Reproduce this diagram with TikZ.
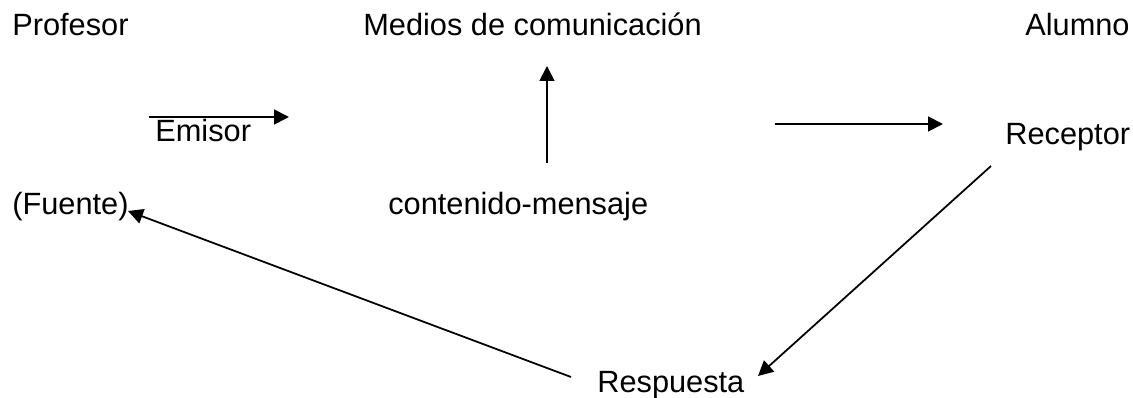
\documentclass[tikz,border=0pt]{standalone}
\usepackage{fontspec}
\setmainfont{Liberation Sans}
\usetikzlibrary{arrows.meta,positioning}
\tikzstyle{arrow} = [line width=1pt,-{Triangle[length=3mm,width=3mm]},color=black]

\begin{document}
\begin{tikzpicture}[
    x=0.02cm, y=-0.02cm,
    label/.style={inner sep=0pt, anchor=base west, font=\fontsize{17.5}{21}\selectfont}
]
\useasboundingbox (0,0) rectangle (1133,398);

% Top row
\node (profesor) [label] at (12,36) {Profesor};
\node (medios) [label] at (363,36) {Medios de comunicación};
\node (alumno) [label] at (1025,36) {Alumno};

% Middle row
\node (emisor) [label] at (155,142) {Emisor};
\node (receptor) [label] at (1005,145) {Receptor};
\node (fuente) [label] at (12,215) {(Fuente)};
\node (mensaje) [label] at (388,215) {contenido-mensaje};

% Bottom
\node (respuesta) [label] at (597,393) {Respuesta};

% Free ends
\coordinate (e1) at (149,117);
\coordinate (e2) at (289,117);
\coordinate (m1) at (547,163);
\coordinate (m2) at (547,66);
\coordinate (r1) at (775,124);
\coordinate (r2) at (943,124);
\coordinate (c1) at (991,166);
\coordinate (c2) at (758,376);
\coordinate (f1) at (571,377);
\coordinate (f2) at (128,211);

% Connections
\draw[arrow] (e1) -- (e2);
\draw[arrow] (m1) -- (m2);
\draw[arrow] (r1) -- (r2);
\draw[arrow] (c1) -- (c2);
\draw[arrow] (f1) -- (f2);
\end{tikzpicture}
\end{document}
